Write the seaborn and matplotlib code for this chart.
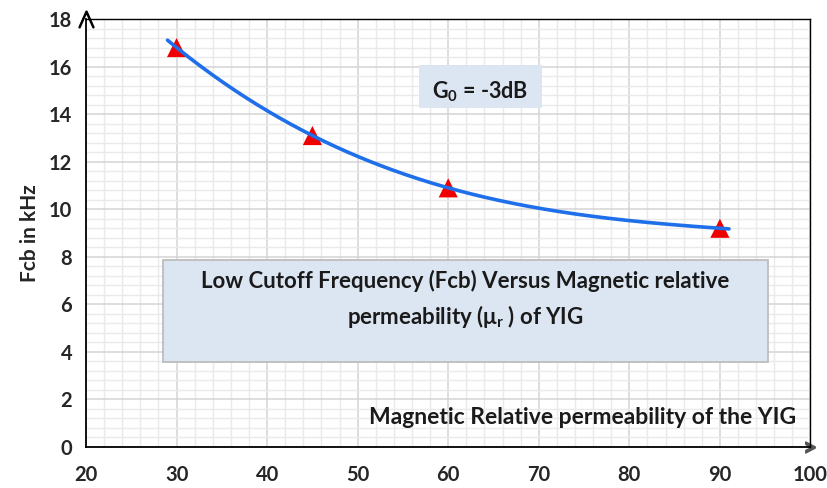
import numpy as np
import pandas as pd
import matplotlib
matplotlib.use("Agg")
import matplotlib.pyplot as plt
import seaborn as sns
from matplotlib.ticker import MultipleLocator
from matplotlib.patches import Rectangle

# Measured cutoff frequency versus relative permeability
mu_r = [30, 45, 60, 90]
fcb_khz = [16.8, 13.1, 10.9, 9.2]

x_ticks = [20, 30, 40, 50, 60, 70, 80, 90, 100]
y_ticks = [0, 2, 4, 6, 8, 10, 12, 14, 16, 18]

sns.set_theme(style="white")
plt.rcParams["font.family"] = ["Lato", "DejaVu Sans"]
plt.rcParams["font.weight"] = "bold"
plt.rcParams["mathtext.fontset"] = "custom"
plt.rcParams["mathtext.rm"] = "Lato:bold"
plt.rcParams["mathtext.it"] = "Lato:bold"
plt.rcParams["mathtext.bf"] = "Lato:bold"

df = pd.DataFrame({"mu": mu_r, "fcb": fcb_khz})

# Polynomial trendline through the measurements, extended one unit each side
coef = np.polyfit(df["mu"], df["fcb"], 3)
xs = np.linspace(min(mu_r) - 1, max(mu_r) + 1, 300)
trend = pd.DataFrame({"mu": xs, "fcb": np.polyval(coef, xs)})

fig = plt.figure(figsize=(8.27, 4.88), dpi=100)
ax = fig.add_axes([0.104, 0.084, 0.876, 0.877])

sns.lineplot(data=trend, x="mu", y="fcb", ax=ax, color="#1F6FEA", lw=2.6, zorder=3)
sns.scatterplot(data=df, x="mu", y="fcb", ax=ax, marker="^", s=190, color="#F00000",
                edgecolor="none", zorder=2)

ax.set_xlim(20, 100)
ax.set_ylim(0, 18)
ax.set_xticks(x_ticks)
ax.set_yticks(y_ticks)
ax.xaxis.set_minor_locator(MultipleLocator(2))
ax.yaxis.set_minor_locator(MultipleLocator(0.4))
ax.grid(which="major", color="#D4D4D4", lw=1.1)
ax.grid(which="minor", color="#EAEAEA", lw=1.0)
ax.set_axisbelow(True)

for s in ax.spines.values():
    s.set_color("black")
    s.set_linewidth(1.3)
ax.spines["top"].set_linewidth(1.0)
ax.spines["right"].set_linewidth(1.0)

ax.tick_params(axis="both", which="major", direction="out", length=6, width=1.2,
               color="black", labelsize=14.5, pad=7)
ax.tick_params(which="minor", length=0)
ax.tick_params(axis="y", pad=4)
for lab in ax.get_xticklabels() + ax.get_yticklabels():
    lab.set_fontweight("bold")

# Axis arrows at the ends of the y and x axes
ax.plot(0, 1, marker=r"$\wedge$", ms=12, color="black", transform=ax.transAxes, clip_on=False)
ax.plot(1, 0, marker=r"$>$", ms=8, color="#555555", transform=ax.transAxes, clip_on=False)

ax.set_xlabel("")
ax.set_ylabel("Fcb in kHz", fontsize=15, fontweight="bold", labelpad=6)
ax.text(0.98, 0.07, "Magnetic Relative permeability of the YIG", transform=ax.transAxes,
        ha="right", va="center", fontsize=16.5, fontweight="bold", color="#1a1a1a")

# Gain annotation
ax.add_patch(Rectangle((0.460, 0.792), 0.169, 0.101, transform=ax.transAxes,
                       fc="#DCE6F2", ec="none", zorder=4))
ax.text(0.544, 0.83, "G$_0$ = -3dB", transform=ax.transAxes, ha="center", va="center",
        fontsize=15.5, fontweight="bold", color="#1a1a1a", zorder=5)

# Chart caption box
ax.add_patch(Rectangle((0.106, 0.199), 0.835, 0.238, transform=ax.transAxes,
                       fc="#DCE6F2", ec="#BDBDBD", lw=1.3, zorder=4))
ax.text(0.523, 0.388, "Low Cutoff Frequency (Fcb) Versus Magnetic relative",
        transform=ax.transAxes, ha="center", va="center", fontsize=16, fontweight="bold",
        color="#1a1a1a", zorder=5)
ax.text(0.523, 0.305, "permeability ($\\mu_r$ ) of YIG",
        transform=ax.transAxes, ha="center", va="center", fontsize=16, fontweight="bold",
        color="#1a1a1a", zorder=5)

fig.savefig("out.png", dpi=100)
